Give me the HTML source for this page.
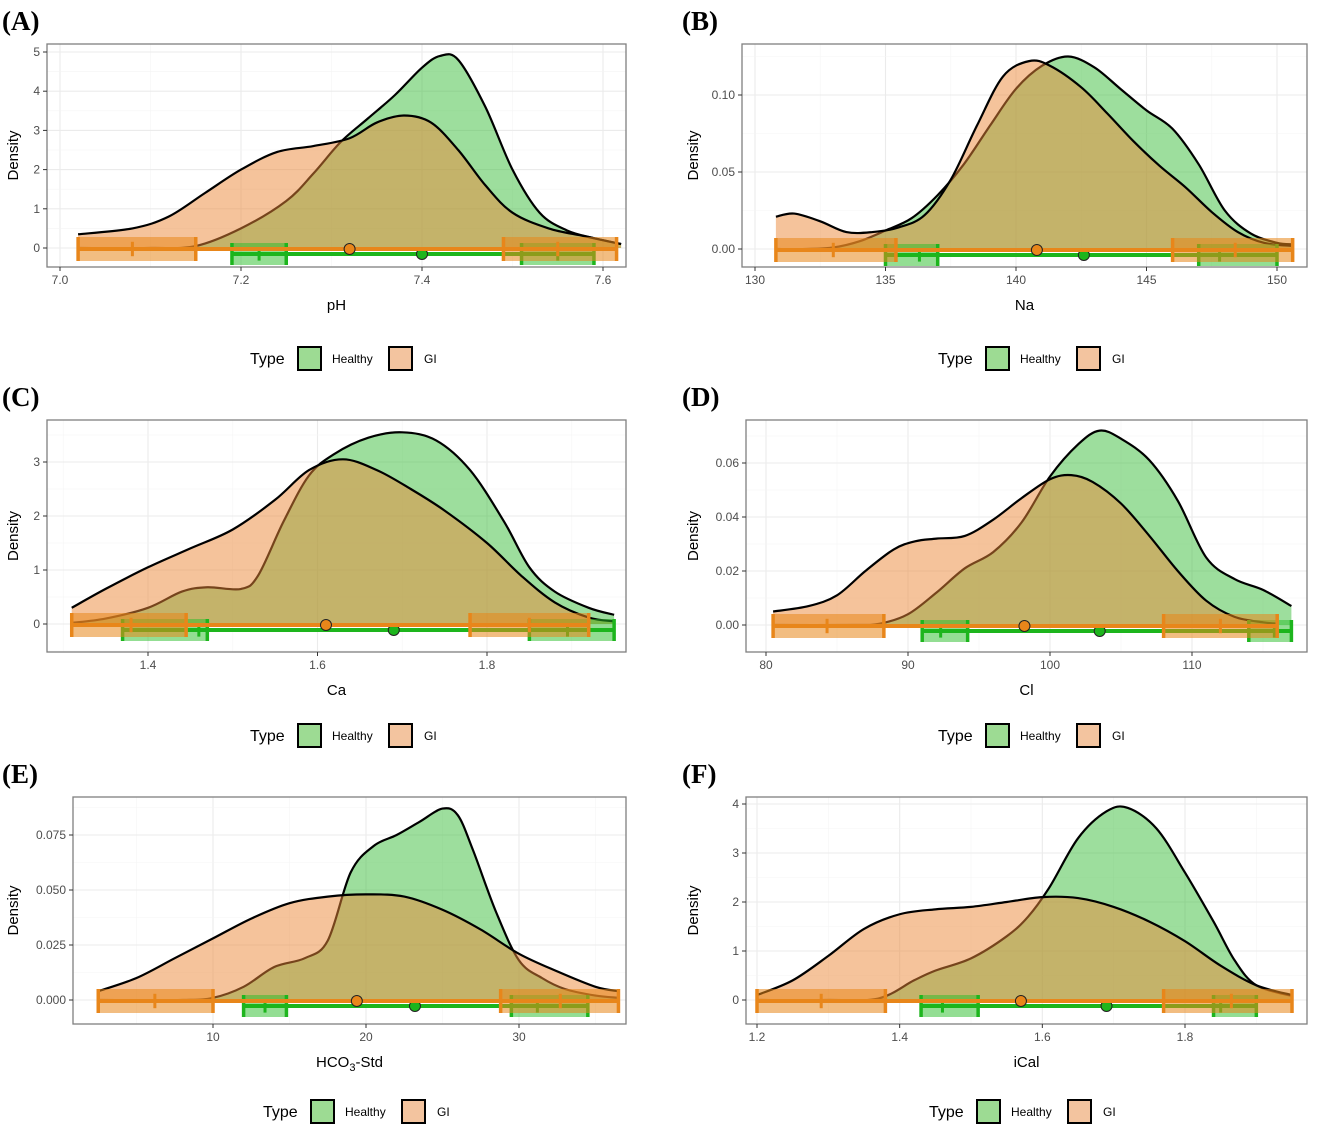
<!DOCTYPE html>
<html><head><meta charset="utf-8">
<style>
html,body{margin:0;padding:0;background:#fff;}
svg{display:block;font-family:"Liberation Sans",sans-serif;}
</style></head>
<body>
<svg id="fig" width="1325" height="1129" viewBox="0 0 1325 1129" xmlns="http://www.w3.org/2000/svg"></svg>
<script>
// ---- Panel A: pH ----
const aHealthyX=[7.02,7.10,7.15,7.20,7.25,7.28,7.31,7.34,7.37,7.40,7.42,7.44,7.47,7.50,7.53,7.56,7.59,7.62];
const aHealthyY=[0,0.0,0.05,0.5,1.2,1.9,2.7,3.3,3.9,4.6,4.9,4.8,3.6,2.0,0.9,0.45,0.25,0.1];
const aGIX=[7.02,7.08,7.12,7.16,7.20,7.24,7.28,7.32,7.35,7.38,7.41,7.44,7.47,7.50,7.54,7.58,7.62];
const aGIY=[0.35,0.5,0.8,1.4,2.0,2.45,2.6,2.8,3.2,3.38,3.2,2.5,1.6,0.9,0.5,0.3,0.1];
// stats: [min, leftBoxEnd, leftTick, rightBoxStart, rightTick, max, mean]
const aHealthyStats=[7.19,7.25,7.22,7.51,7.55,7.59,7.40];
const aGIStats=[7.02,7.15,7.08,7.49,7.55,7.615,7.32];
const aXTicks=[7.0,7.2,7.4,7.6];
const aYTicks=[0,1,2,3,4,5];
// ---- Panel B: Na ----
const bHealthyX=[130.8,132,133,134,135,136,137,138,139,140,141,142,143,144,145,146,147,148,149,150,150.6];
const bHealthyY=[0,0,0.001,0.005,0.012,0.02,0.035,0.055,0.08,0.104,0.119,0.125,0.118,0.104,0.09,0.078,0.055,0.025,0.01,0.004,0.003];
const bGIX=[130.8,131.5,132.5,133.5,134.5,135.5,136.5,137.5,138.5,139.5,140.5,141.3,142.5,143.5,144.5,145.5,146.5,147.5,148.5,149.5,150.6];
const bGIY=[0.021,0.023,0.018,0.011,0.011,0.014,0.022,0.045,0.08,0.112,0.122,0.119,0.105,0.088,0.07,0.054,0.04,0.024,0.011,0.004,0.002];
const bHealthyStats=[135,137,136.3,147,147.8,150,142.6];
const bGIStats=[130.8,135.4,133,146,148.4,150.6,140.8];
const bXTicks=[130,135,140,145,150];
const bYTicks=[0,0.05,0.10];
// ---- Panel C: Ca ----
const cHealthyX=[1.31,1.35,1.40,1.44,1.47,1.51,1.53,1.56,1.59,1.62,1.66,1.70,1.74,1.78,1.82,1.85,1.88,1.92,1.95];
const cHealthyY=[0.02,0.1,0.3,0.6,0.68,0.65,0.9,1.9,2.75,3.15,3.45,3.55,3.4,2.85,1.9,1.05,0.6,0.3,0.17];
const cGIX=[1.31,1.35,1.40,1.45,1.50,1.55,1.59,1.63,1.67,1.71,1.75,1.80,1.84,1.88,1.92,1.95];
const cGIY=[0.3,0.65,1.05,1.4,1.75,2.3,2.85,3.05,2.85,2.5,2.1,1.5,0.9,0.4,0.12,0.05];
const cHealthyStats=[1.37,1.47,1.46,1.85,1.895,1.95,1.69];
const cGIStats=[1.31,1.445,1.38,1.78,1.85,1.92,1.61];
const cXTicks=[1.4,1.6,1.8];
const cYTicks=[0,1,2,3];
// ---- Panel D: Cl ----
const dHealthyX=[80.5,86,88,90,92,94,96,98,100,102,103.5,105,107,109,111,113,115,117];
const dHealthyY=[0,0,0.0005,0.004,0.012,0.021,0.027,0.038,0.055,0.067,0.072,0.069,0.061,0.046,0.025,0.017,0.013,0.007];
const dGIX=[80.5,83,85,87,89,90.5,92,94,96,98,100,101.5,103,105,107,109,111,113,115,116];
const dGIY=[0.005,0.007,0.011,0.02,0.028,0.031,0.032,0.033,0.039,0.047,0.054,0.0555,0.053,0.045,0.033,0.02,0.009,0.003,0.001,0.0005];
const dHealthyStats=[91,94.2,92.3,114,115.8,117,103.5];
const dGIStats=[80.5,88.3,84.3,108,112,116,98.2];
const dXTicks=[80,90,100,110];
const dYTicks=[0,0.02,0.04,0.06];
// ---- Panel E: HCO3-Std ----
const eHealthyX=[2.5,8,10,12,14,16,17.5,19,20.5,22,23.5,25,26,27,28.5,30,31.5,33,35,36.5];
const eHealthyY=[0,0,0.001,0.006,0.015,0.019,0.027,0.058,0.07,0.075,0.081,0.087,0.084,0.068,0.04,0.018,0.01,0.005,0.002,0.001];
const eGIX=[2.5,5,7.5,10,12.5,15,17.5,20,22.5,25,27.5,30,32.5,35,36.5];
const eGIY=[0.004,0.01,0.019,0.028,0.037,0.044,0.047,0.048,0.047,0.041,0.032,0.021,0.013,0.006,0.004];
const eHealthyStats=[12,14.8,13.4,29.5,31.2,34.5,23.2];
const eGIStats=[2.5,10,6.2,28.8,32.7,36.5,19.4];
const eXTicks=[10,20,30];
const eYTicks=[0,0.025,0.05,0.075];
// ---- Panel F: iCal ----
const fHealthyX=[1.2,1.3,1.37,1.42,1.45,1.5,1.55,1.58,1.61,1.65,1.69,1.72,1.76,1.8,1.84,1.87,1.9,1.95];
const fHealthyY=[0,0,0.03,0.4,0.6,0.85,1.3,1.7,2.3,3.3,3.85,3.92,3.5,2.6,1.6,0.8,0.3,0.08];
const fGIX=[1.2,1.25,1.3,1.35,1.4,1.45,1.5,1.55,1.6,1.65,1.7,1.75,1.8,1.85,1.9,1.95];
const fGIY=[0.1,0.4,0.9,1.45,1.75,1.85,1.9,2.0,2.1,2.08,1.9,1.6,1.2,0.7,0.3,0.1];
const fHealthyStats=[1.43,1.51,1.46,1.84,1.85,1.90,1.69];
const fGIStats=[1.2,1.38,1.29,1.77,1.865,1.95,1.57];
const fXTicks=[1.2,1.4,1.6,1.8];
const fYTicks=[0,1,2,3,4];

const NS="http://www.w3.org/2000/svg";
const svg=document.getElementById('fig');
function mk(tag,attrs,parent){const e=document.createElementNS(NS,tag);for(const k in attrs)e.setAttribute(k,attrs[k]);(parent||svg).appendChild(e);return e;}

function spline(pts){
  let d=`M${pts[0][0]},${pts[0][1]}`;
  for(let i=0;i<pts.length-1;i++){
    const p0=pts[i-1]||pts[i],p1=pts[i],p2=pts[i+1],p3=pts[i+2]||p2;
    const c1=[p1[0]+(p2[0]-p0[0])/6,p1[1]+(p2[1]-p0[1])/6];
    const c2=[p2[0]-(p3[0]-p1[0])/6,p2[1]-(p3[1]-p1[1])/6];
    d+=` C${c1[0]},${c1[1]} ${c2[0]},${c2[1]} ${p2[0]},${p2[1]}`;
  }
  return d;
}

function fmt(v,dec){return v.toFixed(dec);}

function panel(cfg){
  const g=mk('g',{});
  
  
  const {L,T,R,B}=cfg.rect;
  const sx=v=>cfg.xp[0]+(v-cfg.xv[0])*(cfg.xp[1]-cfg.xp[0])/(cfg.xv[1]-cfg.xv[0]);
  const sy=v=>cfg.yp[0]+(v-cfg.yv[0])*(cfg.yp[1]-cfg.yp[0])/(cfg.yv[1]-cfg.yv[0]);
  const xs=cfg.xTicks, ys=cfg.yTicks;
  const xstep=xs[1]-xs[0], ystep=ys[1]-ys[0];
  const grid=mk('g',{},g);
  
  
  for(let v=xs[0]-xstep*2;v<=xs[xs.length-1]+xstep*2;v+=xstep/2){
    const px=sx(v); if(px<L||px>R)continue;
    const major=Math.abs(((v-xs[0])/xstep)-Math.round((v-xs[0])/xstep))<1e-6;
    mk('line',{x1:px,x2:px,y1:T,y2:B,stroke:major?'#ebebeb':'#f5f5f5','stroke-width':major?1.1:0.6},grid);
  }
  for(let v=ys[0]-ystep*2;v<=ys[ys.length-1]+ystep*2;v+=ystep/2){
    const py=sy(v); if(py<T||py>B)continue;
    const major=Math.abs(((v-ys[0])/ystep)-Math.round((v-ys[0])/ystep))<1e-6;
    mk('line',{x1:L,x2:R,y1:py,y2:py,stroke:major?'#ebebeb':'#f5f5f5','stroke-width':major?1.1:0.6},grid);
  }
  const dens=(X,Y,fill,nm)=>{
    const pts=X.map((x,i)=>[sx(x),sy(Y[i])]);
    const y0=sy(0);
    const line=spline(pts);
    const f=mk('path',{d:line+` L${pts[pts.length-1][0]},${y0} L${pts[0][0]},${y0} Z`,fill:fill,stroke:'none'},g);
    
    
    const s=mk('path',{d:line,fill:'none',stroke:'#000','stroke-width':2.2},g);
    
    
  };
  dens(cfg.hX,cfg.hY,'rgba(60,190,60,0.5)','healthy');
  dens(cfg.gX,cfg.gY,'rgba(235,135,55,0.5)','gi');
  const intv=(st,off,hh,col,fill,nm)=>{
    const gi=mk('g',{},g);
    
    
    const cy=sy(0)+off;
    mk('rect',{x:sx(st[0]),y:cy-hh,width:sx(st[1])-sx(st[0]),height:2*hh,fill:fill},gi);
    mk('rect',{x:sx(st[3]),y:cy-hh,width:sx(st[5])-sx(st[3]),height:2*hh,fill:fill},gi);
    mk('line',{x1:sx(st[0]),x2:sx(st[5]),y1:cy,y2:cy,stroke:col,'stroke-width':4},gi);
    [st[0],st[1],st[3],st[5]].forEach(v=>mk('line',{x1:sx(v),x2:sx(v),y1:cy-hh,y2:cy+hh,stroke:col,'stroke-width':3.5},gi));
    [st[2],st[4]].forEach(v=>mk('line',{x1:sx(v),x2:sx(v),y1:cy-hh*0.6,y2:cy+hh*0.6,stroke:col,'stroke-width':3},gi));
    const c=mk('circle',{cx:sx(st[6]),cy:cy,r:5.5,fill:col,stroke:'#222','stroke-width':1},gi);
    
    
  };
  intv(cfg.hS,6,11,'#1db51d','rgba(40,190,40,0.5)','healthy');
  intv(cfg.gS,1,12,'#e8861a','rgba(232,134,26,0.55)','gi');
  const bd=mk('rect',{x:L,y:T,width:R-L,height:B-T,fill:'none',stroke:'#7f7f7f','stroke-width':1.3},g);
  
  
  const xa=mk('g',{},g);
  
  
  xs.forEach(v=>{
    const px=sx(v);
    mk('line',{x1:px,x2:px,y1:B,y2:B+4,stroke:'#333','stroke-width':1},xa);
    const t=mk('text',{x:px,y:B+17,'text-anchor':'middle','font-size':12,fill:'#4d4d4d'},xa);
    t.textContent=fmt(v,cfg.xdec);
  });
  const ya=mk('g',{},g);
  
  
  ys.forEach(v=>{
    const py=sy(v);
    mk('line',{x1:L-4,x2:L,y1:py,y2:py,stroke:'#333','stroke-width':1},ya);
    const t=mk('text',{x:L-7,y:py+4,'text-anchor':'end','font-size':12,fill:'#4d4d4d'},ya);
    t.textContent=fmt(v,cfg.ydec);
  });
  const xt=mk('text',{x:(L+R)/2,y:B+43,'text-anchor':'middle','font-size':15,fill:'#000'},g);
  
  
  if(cfg.xlab==='HCO3'){
    xt.appendChild(document.createTextNode('HCO'));
    const sub=mk('tspan',{'font-size':11,dy:4},xt); sub.textContent='3';
    const rest=mk('tspan',{dy:-4},xt); rest.textContent='-Std';
  } else xt.textContent=cfg.xlab;
  const ytx=cfg.ytx, yty=(T+B)/2;
  const yt=mk('text',{x:ytx,y:yty,'text-anchor':'middle','font-size':15,fill:'#000',transform:`rotate(-90 ${ytx} ${yty})`},g);
  
  
  yt.textContent='Density';
  const tag=mk('text',{x:cfg.tag[1],y:cfg.tag[2],'font-size':27,'font-weight':'bold','font-family':'"Liberation Serif",serif',fill:'#000'},g);
  
  
  tag.textContent=cfg.tag[0];
  const lg=mk('g',{},g);
  
  
  const lx=cfg.leg[0], ly=cfg.leg[1];
  const tt=mk('text',{x:lx,y:ly+6,'font-size':16,fill:'#000'},lg); tt.textContent='Type';
  const b1=mk('rect',{x:lx+48,y:ly-11,width:23,height:23,fill:'#9ddb93',stroke:'#000','stroke-width':2},lg);
  
  
  const t1=mk('text',{x:lx+82,y:ly+5,'font-size':12,fill:'#000'},lg); t1.textContent='Healthy';
  const b2=mk('rect',{x:lx+139,y:ly-11,width:23,height:23,fill:'#f3c49f',stroke:'#000','stroke-width':2},lg);
  
  
  const t2=mk('text',{x:lx+174,y:ly+5,'font-size':12,fill:'#000'},lg); t2.textContent='GI';
}

panel({name:'ph',rect:{L:47,T:44,R:626,B:267},xv:[7.0,7.6],xp:[60,603],yv:[0,5],yp:[248,52],ytx:18,
  xTicks:aXTicks,yTicks:aYTicks,xdec:1,ydec:0,hX:aHealthyX,hY:aHealthyY,gX:aGIX,gY:aGIY,hS:aHealthyStats,gS:aGIStats,
  xlab:'pH',tag:['(A)',2,30],leg:[250,358]});
panel({name:'na',rect:{L:742,T:44,R:1307,B:267},xv:[130,150],xp:[755,1277],yv:[0,0.10],yp:[249,95],ytx:698,
  xTicks:bXTicks,yTicks:bYTicks,xdec:0,ydec:2,hX:bHealthyX,hY:bHealthyY,gX:bGIX,gY:bGIY,hS:bHealthyStats,gS:bGIStats,
  xlab:'Na',tag:['(B)',682,30],leg:[938,358]});
panel({name:'ca',rect:{L:47,T:420,R:626,B:652},xv:[1.4,1.8],xp:[148,487],yv:[0,3],yp:[624,462],ytx:18,
  xTicks:cXTicks,yTicks:cYTicks,xdec:1,ydec:0,hX:cHealthyX,hY:cHealthyY,gX:cGIX,gY:cGIY,hS:cHealthyStats,gS:cGIStats,
  xlab:'Ca',tag:['(C)',2,406],leg:[250,735]});
panel({name:'cl',rect:{L:746,T:420,R:1307,B:652},xv:[80,110],xp:[766,1192],yv:[0,0.06],yp:[625,463],ytx:698,
  xTicks:dXTicks,yTicks:dYTicks,xdec:0,ydec:2,hX:dHealthyX,hY:dHealthyY,gX:dGIX,gY:dGIY,hS:dHealthyStats,gS:dGIStats,
  xlab:'Cl',tag:['(D)',682,406],leg:[938,735]});
panel({name:'hco3',rect:{L:73,T:797,R:626,B:1024},xv:[10,30],xp:[213,519],yv:[0,0.075],yp:[1000,835],ytx:18,
  xTicks:eXTicks,yTicks:eYTicks,xdec:0,ydec:3,hX:eHealthyX,hY:eHealthyY,gX:eGIX,gY:eGIY,hS:eHealthyStats,gS:eGIStats,
  xlab:'HCO3',tag:['(E)',2,783],leg:[263,1111]});
panel({name:'ical',rect:{L:746,T:797,R:1307,B:1024},xv:[1.2,1.8],xp:[757,1185],yv:[0,4],yp:[1000,804],ytx:698,
  xTicks:fXTicks,yTicks:fYTicks,xdec:1,ydec:0,hX:fHealthyX,hY:fHealthyY,gX:fGIX,gY:fGIY,hS:fHealthyStats,gS:fGIStats,
  xlab:'iCal',tag:['(F)',682,783],leg:[929,1111]});
</script>
</body></html>
